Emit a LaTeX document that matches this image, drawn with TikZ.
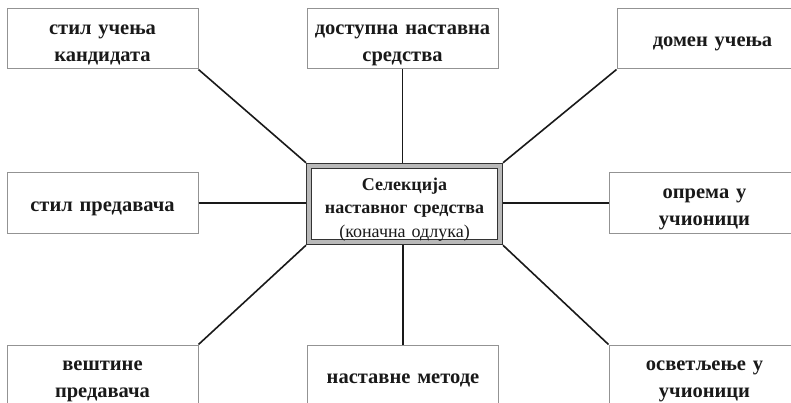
\documentclass[tikz,border=0pt]{standalone}
\usepackage{fontspec}
\setmainfont{Liberation Serif}
\usetikzlibrary{positioning}

\begin{document}
\begin{tikzpicture}[%
    node distance=165pt and 302pt, % Global setup of box spacing
    ]
% -------------------------------------------------
% Box styles
% <on grid> keeps the distances between box centres

\tikzset{
  base/.style={on grid, align=center, inner sep=0pt, text width=185pt,
    execute at begin node={\rule{0pt}{21pt}},
    execute at end node={\rule[-5pt]{0pt}{5pt}}},
  box/.style={base, draw=gray!85, line width=1pt, minimum width=191pt,
    minimum height=60pt, text=black!90, font=\fontsize{20.5}{27}\selectfont\bfseries},
  % two lines of text sit a little lower
  tall/.style={execute at begin node={\rule{0pt}{23.5pt}}},
  hub/.style={base, draw=black!80, line width=1pt, double=gray!55,
    double distance=4pt, outer sep=3pt, minimum width=191pt,
    minimum height=76pt, text=black!90, font=\fontsize{18}{23.5}\selectfont,
    execute at begin node={\rule{0pt}{24.5pt}},
    execute at end node={\rule[-3.8pt]{0pt}{3.8pt}}},
  % Connector line style
  link/.style={draw, line width=1.6pt, black!90}
}
\useasboundingbox (0,0) rectangle (791pt,402pt);
% -------------------------------------------------
% Start by placing the nodes
\node [hub] (selekcija) at (404.5pt,198pt)
  {\textbf{Селекција}\\ \textbf{наставног средства}\\ (коначна одлука)};
\node [box, tall, above left = 165pt and 302pt of selekcija] (stilUcenja) {стил учења\\ кандидата};
\node [box, tall, above = of selekcija, xshift=-2pt] (sredstva) {доступна наставна\\ средства};
\node [box, above right = 165pt and 308pt of selekcija] (domen) {домен учења};
\node [box, left = of selekcija, yshift=1pt] (stilPred) {стил предавача};
\node [box, tall, right = 300pt of selekcija, yshift=1pt] (oprema) {опрема у\\ учионици};
\node [box, tall, below left = 171pt and 302pt of selekcija] (vestine) {вештине\\ предавача};
\node [box, below = 171pt of selekcija, xshift=-1.5pt] (metode) {наставне методе};
\node [box, tall, below right = 171pt and 300pt of selekcija] (osvetljenje) {осветљење у\\ учионици};

\draw[link] (stilUcenja.south east) -- (selekcija.north west);	%top left
\draw[link] (sredstva.south) -- (sredstva.south |- selekcija.north);	%top
\draw[link] (domen.south west) -- (selekcija.north east);	%top right
\draw[link] (stilPred.east) -- (stilPred.east -| selekcija.west);	%left
\draw[link] (oprema.west) -- (oprema.west -| selekcija.east);	%right
\draw[link] (vestine.north east) -- (selekcija.south west);	%bottom left
\draw[link] (metode.north) -- (metode.north |- selekcija.south);	%bottom
\draw[link] (osvetljenje.north west) -- (selekcija.south east);	%bottom right

% -------------------------------------------------
\end{tikzpicture}
\end{document}
